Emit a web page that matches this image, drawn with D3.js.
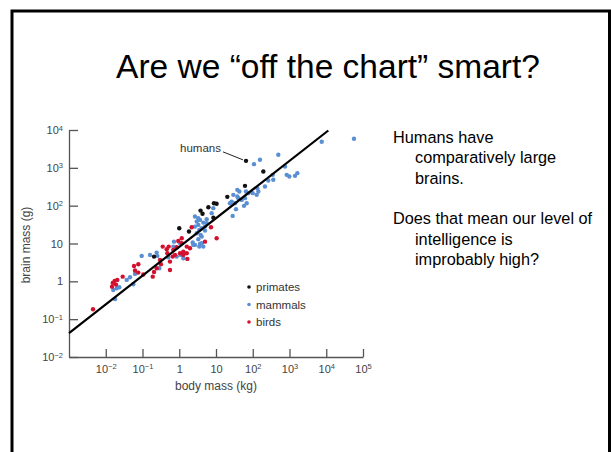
<!DOCTYPE html>
<html>
<head>
<meta charset="utf-8">
<script src="https://cdn.jsdelivr.net/npm/d3@7"></script>
<style>
  body { margin: 0; background: #fff; }
  svg { display: block; }
</style>
</head>
<body>
<script>
// body mass (kg), brain mass (g)
var primates = [
  [0.206, 4.5], [1.0, 25.4], [1.84, 20.7], [3.8, 74], [4.3, 61], [6.2, 91],
  [8.5, 48], [8.8, 116], [10.4, 112], [20.3, 171], [61.5, 334], [194, 798], [65.5, 1530]
];
var mammals = [
  [0.0179, 0.342], [0.0199, 0.656], [0.0234, 0.698], [0.016, 0.59], [0.0372, 1.09], [0.0457, 1.28],
  [0.0562, 0.84], [0.0625, 1.57], [0.095, 4.7], [0.16, 5.0], [0.253, 4.7], [0.286, 2.22],
  [0.503, 4.34], [0.72, 11.2], [1.05, 10.2], [0.853, 4.5], [1.09, 5.0], [1.29, 4.08],
  [2.41, 9.18], [3.67, 9.76], [0.243, 5.74],
  [2.68, 51.5], [2.99, 37.9], [3.30, 31], [3.67, 42.1], [4.51, 35.7], [5.02, 28], [4.08, 25.4],
  [5.58, 44], [3.51, 22.9], [2.99, 18.7], [3.84, 16.9], [3.30, 13.0], [4.08, 10.2], [2.68, 9.18],
  [2.32, 10.6], [3.51, 8.28], [4.51, 8.28], [3.30, 46.7], [5.58, 34.4], [2.68, 28], [5.02, 21.9],
  [4.08, 15.2], [0.69, 8.28], [8.45, 85.9], [7.64, 63.4],
  [26.7, 128], [32.9, 116], [38, 174], [50, 142], [61.5, 158], [68.4, 116], [28.4, 53.7], [35, 80.8],
  [57.8, 98.8], [75.7, 214], [128, 193], [38, 262], [65.5, 236], [99.7, 214], [133, 290], [142, 236],
  [215, 320], [265, 461], [349, 653], [362, 482], [108, 1250], [157, 1630], [496, 2210], [755, 1080],
  [839, 653], [988, 589], [1410, 614], [1630, 724], [7520, 4880], [56900, 5850], [24, 116], [43, 236],
  [29.6, 193], [40.5, 158]
];
var birds = [
  [0.0045, 0.183], [0.0148, 0.724], [0.0155, 0.91], [0.0175, 1.03], [0.019, 0.82], [0.0206, 1.09],
  [0.0289, 1.33], [0.0587, 2.55], [0.0769, 2.83], [0.0625, 1.94], [0.0769, 1.70], [0.105, 1.52],
  [0.19, 1.33], [0.206, 1.77], [0.318, 2.83], [0.30, 3.68], [0.243, 2.22], [0.355, 8.28],
  [0.473, 5.54], [0.516, 8.28], [0.456, 7.06], [0.56, 2.0], [0.56, 3.32], [0.664, 4.5],
  [0.69, 6.77], [0.766, 5.0], [0.853, 7.98], [0.94, 11.7], [1.05, 5.54], [1.17, 10.2],
  [1.17, 13.8], [1.29, 5.0], [1.29, 6.1], [1.6, 8.28], [1.6, 5.54], [1.66, 3.92], [1.96, 7.51],
  [2.18, 27], [5.02, 11.2], [7.31, 27], [10.4, 13.8]
];
var humans = [65.5, 1530];
var trendLine = [[0.001, 0.043], [11400, 9700]];

var xTicks = [1e-2, 1e-1, 1, 10, 1e2, 1e3, 1e4, 1e5];
var xTickLabels = [["10", "\u22122"], ["10", "\u22121"], ["1", ""], ["10", ""], ["10", "2"], ["10", "3"], ["10", "4"], ["10", "5"]];
var yTicks = [1e-2, 1e-1, 1, 10, 1e2, 1e3, 1e4];
var yTickLabels = [["10", "\u22122"], ["10", "\u22121"], ["1", ""], ["10", ""], ["10", "2"], ["10", "3"], ["10", "4"]];

var legendItems = [
  {name: "primates", color: "#111111"},
  {name: "mammals", color: "#5b8fd3"},
  {name: "birds", color: "#d3102e"}
];
var bodyLines = [
  {text: "Humans have", indent: false},
  {text: "comparatively large", indent: true},
  {text: "brains.", indent: true},
  {text: "", indent: false},
  {text: "Does that mean our level of", indent: false},
  {text: "intelligence is", indent: true},
  {text: "improbably high?", indent: true}
];

var W = 611, H = 452;
var font = "'Liberation Sans', Arial, Helvetica, sans-serif";
var axisGray = "#555";

var svg = d3.select("body").append("svg")
  .attr("width", W).attr("height", H)
  .style("font-family", font);

// slide frame
svg.append("rect")
  .attr("x", 12).attr("y", 11)
  .attr("width", 597.5).attr("height", 460)
  .attr("fill", "none").attr("stroke", "#000").attr("stroke-width", 3);

svg.append("text")
  .attr("x", 328).attr("y", 78)
  .attr("text-anchor", "middle")
  .style("font-size", "33.5px")
  .attr("fill", "#000")
  .text("Are we \u201coff the chart\u201d smart?");

/////////////////////////////////////////
// chart
var x = d3.scaleLog().domain([1e-3, 1e5]).range([69, 363]);
var y = d3.scaleLog().domain([1e-2, 1e4]).range([357, 130]);

function supLabels(sel, labels, ticks) {
  sel.selectAll(".tick text").each(function(d) {
    var i = ticks.indexOf(d);
    var t = d3.select(this).text("");
    t.append("tspan").text(labels[i][0]);
    if (labels[i][1]) {
      t.append("tspan")
        .attr("dy", "-0.45em")
        .style("font-size", "7.5px")
        .text(labels[i][1]);
    }
  });
}

var gy = svg.append("g")
  .attr("transform", "translate(69,0)")
  .call(d3.axisLeft(y).tickValues(yTicks).tickSize(-9).tickSizeOuter(0).tickPadding(6));
supLabels(gy, yTickLabels, yTicks);

var gx = svg.append("g")
  .attr("transform", "translate(0,357)")
  .call(d3.axisBottom(x).tickValues(xTicks).tickSize(-8).tickSizeOuter(0).tickPadding(8));
supLabels(gx, xTickLabels, xTicks);

[gx, gy].forEach(function(g) {
  g.select(".domain").attr("stroke", axisGray).attr("stroke-width", 1.3);
  g.selectAll(".tick line").attr("stroke", axisGray).attr("stroke-width", 1.3);
  g.selectAll(".tick text")
    .attr("fill", "#444")
    .style("font-family", font)
    .style("font-size", "11px");
});

svg.append("text")
  .attr("transform", "translate(30,245) rotate(-90)")
  .attr("text-anchor", "middle")
  .attr("fill", "#444")
  .style("font-size", "12px")
  .text("brain mass (g)");

svg.append("text")
  .attr("x", 216).attr("y", 390)
  .attr("text-anchor", "middle")
  .attr("fill", "#444")
  .style("font-size", "12px")
  .text("body mass (kg)");

function drawDots(data, color) {
  svg.append("g").selectAll("circle")
    .data(data)
    .join("circle")
    .attr("cx", function(d) { return x(d[0]); })
    .attr("cy", function(d) { return y(d[1]); })
    .attr("r", 2.2)
    .attr("fill", color);
}

drawDots(mammals, legendItems[1].color);
drawDots(birds, legendItems[2].color);

svg.append("path")
  .datum(trendLine)
  .attr("fill", "none")
  .attr("stroke", "#000")
  .attr("stroke-width", 2.2)
  .attr("d", d3.line()
    .x(function(d) { return x(d[0]); })
    .y(function(d) { return y(d[1]); }));

drawDots(primates, legendItems[0].color);

// humans annotation
var hx = x(humans[0]), hy = y(humans[1]);
svg.append("line")
  .attr("x1", hx - 23).attr("y1", hy - 9)
  .attr("x2", hx - 3).attr("y2", hy - 1)
  .attr("stroke", "#222").attr("stroke-width", 1);
svg.append("text")
  .attr("x", hx - 25).attr("y", hy - 9)
  .attr("text-anchor", "end")
  .attr("fill", "#333")
  .style("font-size", "11.5px")
  .text("humans");

// legend
var lg = svg.append("g").attr("transform", "translate(249,287)");
legendItems.forEach(function(item, i) {
  lg.append("circle")
    .attr("cx", 0).attr("cy", i * 17.5)
    .attr("r", 1.8)
    .attr("fill", item.color);
  lg.append("text")
    .attr("x", 7).attr("y", i * 17.5 + 4)
    .attr("fill", "#333")
    .style("font-size", "11.5px")
    .text(item.name);
});

/////////////////////////////////////////
// slide text on the right
var tx = svg.append("text")
  .attr("fill", "#000")
  .style("font-size", "16.3px");
bodyLines.forEach(function(l, i) {
  if (!l.text) return;
  tx.append("tspan")
    .attr("x", l.indent ? 415 : 393)
    .attr("y", 143 + i * 20.3)
    .text(l.text);
});
</script>
</body>
</html>
